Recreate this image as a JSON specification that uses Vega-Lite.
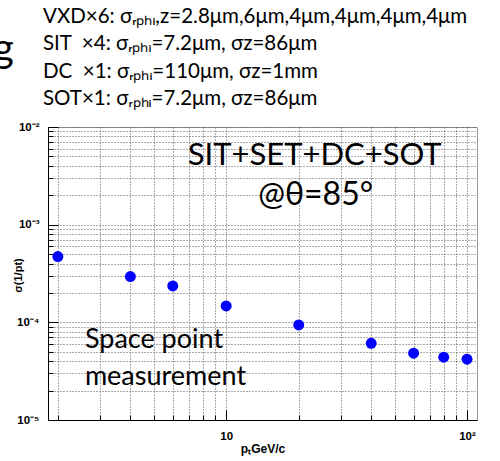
{
  "$schema": "https://vega.github.io/schema/vega-lite/v6.json",
  "width": 429,
  "height": 293,
  "autosize": {"type": "none"},
  "padding": {"left": 48, "top": 127, "right": 23, "bottom": 41},
  "background": "white",
  "config": {"view": {"stroke": "#999999", "strokeWidth": 1}},
  "datasets": {
    "points": [
      {"pt": 2, "sigma": 0.000471},
      {"pt": 4, "sigma": 0.000294},
      {"pt": 6, "sigma": 0.000236},
      {"pt": 10, "sigma": 0.000147},
      {"pt": 20, "sigma": 0.000094},
      {"pt": 40, "sigma": 0.000061},
      {"pt": 60, "sigma": 0.0000483},
      {"pt": 80, "sigma": 0.000044},
      {"pt": 100, "sigma": 0.0000419}
    ],
    "resolution": [
      {"pt": 1.735, "sigma": 0.1161, "label": "VXD×6: σᵣₚₕᵢ,ᴢ=2.8μm,6μm,4μm,4μm,4μm,4μm"},
      {"pt": 1.735, "sigma": 0.06142, "label": "SIT\u00a0 ×4: σᵣₚₕᵢ=7.2μm, σᴢ=86μm"},
      {"pt": 1.735, "sigma": 0.03212, "label": "DC\u00a0 ×1: σᵣₚₕᵢ=110μm, σᴢ=1mm"},
      {"pt": 1.735, "sigma": 0.0168, "label": "SOT×1: σᵣₚₕᵢ=7.2μm, σᴢ=86μm"}
    ],
    "headline": [
      {"pt": 23.3, "sigma": 0.00408, "label": "SIT+SET+DC+SOT"}
    ],
    "angle": [
      {"pt": 23.5, "sigma": 0.00159, "label": "@θ=85°"}
    ],
    "method": [
      {"pt": 2.59, "sigma": 0.0000546, "label": "Space point"},
      {"pt": 2.59, "sigma": 0.0000228, "label": "measurement"}
    ],
    "fragment": [
      {"pt": 1.312, "sigma": 0.0463, "label": "g"}
    ]
  },
  "layer": [
    {
      "data": {"name": "points"},
      "mark": {"type": "circle", "color": "#0000ff", "size": 120, "opacity": 1},
      "encoding": {
        "x": {
          "field": "pt",
          "type": "quantitative",
          "scale": {"type": "log", "domain": [1.82, 110], "nice": false},
          "axis": {
            "values": [2, 3, 4, 5, 6, 7, 8, 9, 10, 20, 30, 40, 50, 60, 70, 80, 90, 100],
            "labelExpr": "datum.value == 10 ? '10' : datum.value == 100 ? '10²' : ''",
            "title": "pₜGeV/c",
            "titleFont": "Liberation Sans",
            "titleFontWeight": "bold",
            "titleFontSize": 12,
            "titleColor": "black",
            "titleBaseline": "alphabetic",
            "titleY": 32,
            "labelFont": "Liberation Sans",
            "labelFontWeight": "bold",
            "labelFontSize": 11.5,
            "labelColor": "black",
            "labelPadding": 20,
            "labelOverlap": false,
            "labelFlush": false,
            "tickColor": "black",
            "tickSize": {"condition": {"test": "abs(log(datum.value)/LN10 - round(log(datum.value)/LN10)) < 0.000001", "value": -10}, "value": -5},
            "domainColor": "black",
            "grid": true,
            "gridColor": "#555555",
            "gridDash": [1, 2],
            "gridWidth": 1
          }
        },
        "y": {
          "field": "sigma",
          "type": "quantitative",
          "scale": {"type": "log", "domain": [0.00001, 0.01], "nice": false},
          "axis": {
            "values": [0.00001, 0.00002, 0.00003, 0.00004, 0.00005, 0.00006, 0.00007, 0.00008, 0.00009, 0.0001, 0.0002, 0.0003, 0.0004, 0.0005, 0.0006, 0.0007, 0.0008, 0.0009, 0.001, 0.002, 0.003, 0.004, 0.005, 0.006, 0.007, 0.008, 0.009, 0.01],
            "labelExpr": "datum.value == 0.01 ? '10⁻²' : datum.value == 0.001 ? '10⁻³' : datum.value == 0.0001 ? '10⁻⁴' : datum.value == 0.00001 ? '10⁻⁵' : ''",
            "title": "σ(1/pt)",
            "titleFont": "Liberation Sans",
            "titleFontWeight": "bold",
            "titleFontSize": 11,
            "titleColor": "black",
            "titleX": -30,
            "titleY": 148,
            "titleBaseline": "middle",
            "labelFont": "Liberation Sans",
            "labelFontWeight": "bold",
            "labelFontSize": 11.5,
            "labelColor": "black",
            "labelPadding": 19,
            "labelOverlap": false,
            "labelFlush": false,
            "tickColor": "black",
            "tickSize": {"condition": {"test": "abs(log(datum.value)/LN10 - round(log(datum.value)/LN10)) < 0.000001", "value": -10}, "value": -5},
            "domainColor": "black",
            "grid": true,
            "gridColor": "#555555",
            "gridDash": [1, 2],
            "gridWidth": 1
          }
        }
      }
    },
    {
      "data": {"name": "resolution"},
      "mark": {"type": "text", "font": "Lato", "fontSize": 20.5, "align": "left", "baseline": "alphabetic", "color": "black"},
      "encoding": {
        "x": {"field": "pt", "type": "quantitative"},
        "y": {"field": "sigma", "type": "quantitative"},
        "text": {"field": "label"}
      }
    },
    {
      "data": {"name": "headline"},
      "mark": {"type": "text", "font": "Lato", "fontSize": 31, "align": "center", "baseline": "alphabetic", "color": "black"},
      "encoding": {
        "x": {"field": "pt", "type": "quantitative"},
        "y": {"field": "sigma", "type": "quantitative"},
        "text": {"field": "label"}
      }
    },
    {
      "data": {"name": "angle"},
      "mark": {"type": "text", "font": "Lato", "fontSize": 32, "align": "center", "baseline": "alphabetic", "color": "black"},
      "encoding": {
        "x": {"field": "pt", "type": "quantitative"},
        "y": {"field": "sigma", "type": "quantitative"},
        "text": {"field": "label"}
      }
    },
    {
      "data": {"name": "method"},
      "mark": {"type": "text", "font": "Lato", "fontSize": 27, "align": "left", "baseline": "alphabetic", "color": "black"},
      "encoding": {
        "x": {"field": "pt", "type": "quantitative"},
        "y": {"field": "sigma", "type": "quantitative"},
        "text": {"field": "label"}
      }
    },
    {
      "data": {"name": "fragment"},
      "mark": {"type": "text", "font": "Lato", "fontSize": 40, "align": "right", "baseline": "alphabetic", "color": "black"},
      "encoding": {
        "x": {"field": "pt", "type": "quantitative"},
        "y": {"field": "sigma", "type": "quantitative"},
        "text": {"field": "label"}
      }
    }
  ]
}
